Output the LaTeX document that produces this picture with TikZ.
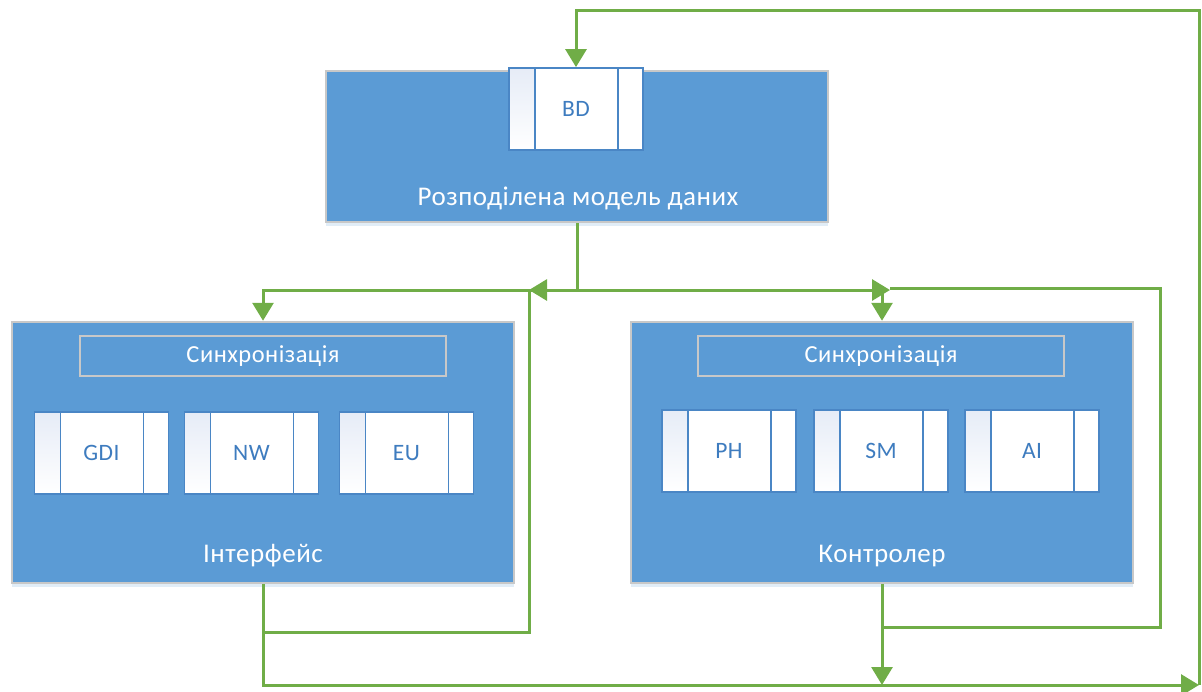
\documentclass[tikz,border=0pt]{standalone}
\usepackage{fontspec}
\setmainfont{Carlito}
\newfontfamily\vf[LetterSpace=2]{Carlito}
\usetikzlibrary{arrows.meta,shadows}
\definecolor{vblue}{HTML}{5B9BD5}
\definecolor{vgreen}{HTML}{70AD47}
\definecolor{vgrey}{HTML}{C8C8C8}
\definecolor{bline}{HTML}{4A86C5}
\definecolor{btext}{HTML}{3E7CBF}
\definecolor{strip}{HTML}{E6ECF7}
\tikzset{
  x=1pt,y=-1pt,
  bigbox/.style={draw=vgrey,line width=2.5pt,fill=vblue,minimum width=502pt,inner sep=0pt,
    drop shadow={shadow xshift=0pt,shadow yshift=-4pt,opacity=0.18,fill=vblue}},
  syncbar/.style={draw=vgrey,line width=2pt,minimum width=366pt,minimum height=40pt,inner sep=0pt,
    text=white,font=\vf\fontsize{24.5}{26}\selectfont},
  title/.style={text=white,font=\vf\fontsize{27}{30}\selectfont,inner sep=0pt},
  modblock/.style={draw=bline,line width=1.8pt,minimum width=134pt,minimum height=82pt,inner sep=0pt,
    top color=strip,bottom color=white,text=btext,font=\vf\fontsize{23.5}{26}\selectfont,
    path picture={
      \fill[white] ([xshift=26pt]path picture bounding box.south west) rectangle (path picture bounding box.north east);
      \draw[bline,line width=1.8pt] ([xshift=26pt]path picture bounding box.south west) -- ([xshift=26pt]path picture bounding box.north west);
      \draw[bline,line width=1.8pt] ([xshift=-25pt]path picture bounding box.south east) -- ([xshift=-25pt]path picture bounding box.north east);
    }},
  conn/.style={draw=vgreen,line width=3pt},
  arrow/.style={conn,-{Triangle[width=21pt,length=18pt]}}
}
\begin{document}
\begin{tikzpicture}
\useasboundingbox (0,0) rectangle (1202,691);
% main boxes
\node[bigbox,minimum height=151pt] (top) at (577,146.5) {};
\node[bigbox,minimum height=261pt] (intf) at (263,452.5) {};
\node[bigbox,minimum height=261pt] (ctrl) at (882,452.5) {};
% inner parts
\node[modblock] (bd) at (576,109) {BD};
\node[title] (toptitle) at (578,198) {Розподілена модель даних};
\node[syncbar] (sync1) at (263,356) {Синхронізація};
\node[syncbar] (sync2) at (881,356) {Синхронізація};
\node[modblock] (gdi) at (101.5,453) {GDI};
\node[modblock] (nw) at (251.5,453) {NW};
\node[modblock] (eu) at (406.5,453) {EU};
\node[modblock] (ph) at (729,451) {PH};
\node[modblock] (sm) at (881,451) {SM};
\node[modblock] (ai) at (1032,451) {AI};
\node[title] (intftitle) at (263,556) {Інтерфейс};
\node[title] (ctrltitle) at (882,556) {Контролер};
% junctions
\coordinate (j1) at (577,290);
\coordinate (la) at (529,290);
\coordinate (ra) at (890,290);
\coordinate (il) at (529,632);
\coordinate (cr) at (1160,627);
\coordinate (cra) at (1160,288);
\coordinate (br) at (1199,685);
\coordinate (tr) at (1199,10);
% connectors
\draw[conn] (top.south) -- (j1);
\draw[arrow] (j1) -| (intf.north);
\draw[arrow] (j1) -| (ctrl.north);
\draw[arrow] (j1) -- (la);
\draw[arrow] (j1) -- (ra);
\draw[conn] (intf.south) |- (il) -- (la);
\draw[conn] (ctrl.south) |- (cr) -- (cra) -- (ra |- cra);
\draw[arrow] (intf.south) |- (br);
\draw[arrow] (ctrl.south) -- (ctrl.south |- br);
\draw[arrow] (br) -- (tr) -| (bd.north);
\end{tikzpicture}
\end{document}
